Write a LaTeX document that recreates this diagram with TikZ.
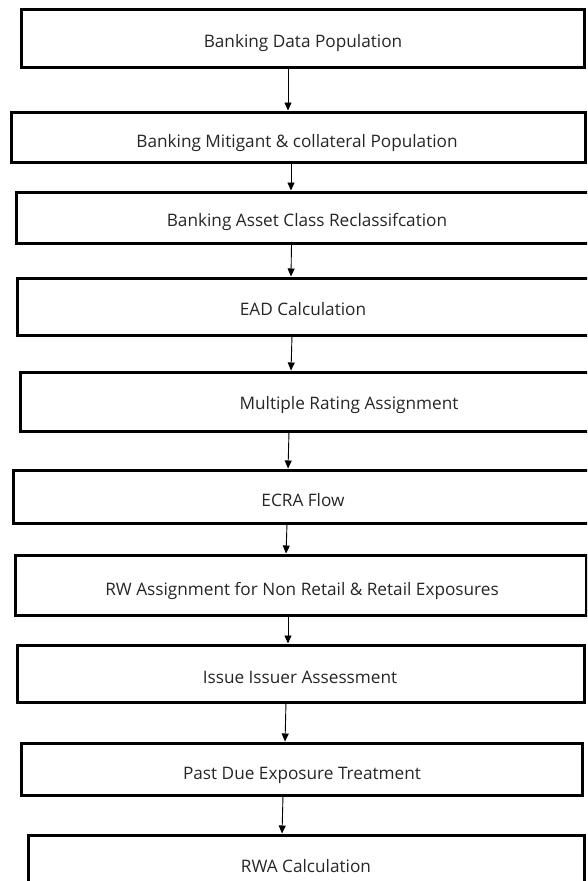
\documentclass[tikz,border=0pt]{standalone}
\usepackage{fontspec}
\setmainfont{Open Sans}
\usetikzlibrary{arrows.meta}
\begin{document}
\begin{tikzpicture}[x=1pt,y=-1pt,
                    box/.style = {draw,line width=3pt,inner sep=0pt,outer sep=0pt},
                    txt/.style = {anchor=base,font=\fontsize{17.2}{20}\selectfont,text=black!85},
                    arrow/.style = {line width=0.9pt,shorten >=1.5pt,-{Triangle[length=8pt,width=7pt]}}]
                    \useasboundingbox (0,0) rectangle (587,881);
                    \clip (0,0) rectangle (587,881);

                    \node[box,minimum width=563,minimum height=58] (b1) at (302.5,38) {};
                    \node[box,minimum width=574,minimum height=50] (b2) at (298,137) {};
                    \node[box,minimum width=576,minimum height=51] (b3) at (304,217.5) {};
                    \node[box,minimum width=575,minimum height=57] (b4) at (304.5,306.5) {};
                    \node[box,minimum width=572,minimum height=59] (b5) at (306,401.5) {};
                    \node[box,minimum width=579,minimum height=53] (b6) at (302.5,496.5) {};
                    \node[box,minimum width=571,minimum height=60] (b7) at (300.5,585) {};
                    \node[box,minimum width=567,minimum height=57] (b8) at (300.5,673.5) {};
                    \node[box,minimum width=561,minimum height=52] (b9) at (301.5,769) {};
                    \node[box,minimum width=556,minimum height=55] (b10) at (306,862.5) {};

                    \node[txt] (t1) at (303,47) {Banking Data Population};
                    \node[txt] (t2) at (297,147) {Banking Mitigant \& collateral Population};
                    \node[txt] (t3) at (307,226) {Banking Asset Class Reclassifcation};
                    \node[txt] (t4) at (303,315) {EAD Calculation};
                    \node[txt] (t5) at (349,409) {Multiple Rating Assignment};
                    \node[txt] (t6) at (303,506) {ECRA Flow};
                    \node[txt] (t7) at (302,595) {RW Assignment for Non Retail \& Retail Exposures};
                    \node[txt] (t8) at (300,683) {Issue Issuer Assessment};
                    \node[txt] (t9) at (302,779) {Past Due Exposure Treatment};
                    \node[txt] (t10) at (306,872) {RWA Calculation};

                    \draw[arrow] (288,0 |- b1.south) -- (288,0 |- b2.north);
                    \draw[arrow] (291,0 |- b2.south) -- (291,0 |- b3.north);
                    \draw[arrow] (291.5,0 |- b3.south) -- (291,0 |- b4.north);
                    \draw[arrow] (292,0 |- b4.south) -- (291,0 |- b5.north);
                    \draw[arrow] (289,0 |- b5.south) -- (288,0 |- b6.north);
                    \draw[arrow] (287,0 |- b6.south) -- (286,0 |- b7.north);
                    \draw[arrow] (288,0 |- b7.south) -- (288,0 |- b8.north);
                    \draw[arrow] (286,0 |- b8.south) -- (285,0 |- b9.north);
                    \draw[arrow] (283,0 |- b9.south) -- (282,0 |- b10.north);
                \end{tikzpicture}
\end{document}
